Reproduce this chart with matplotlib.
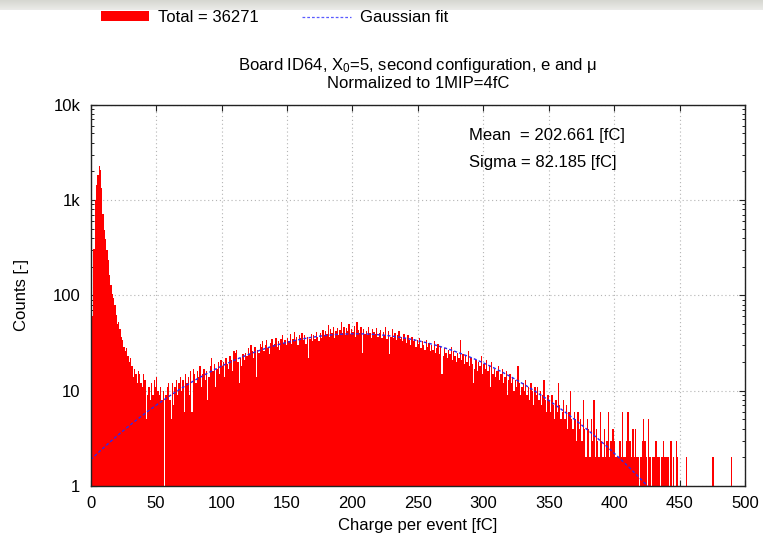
import numpy as np
import matplotlib
matplotlib.use("Agg")
import matplotlib.pyplot as plt
from matplotlib.patches import Patch
from matplotlib.lines import Line2D
from matplotlib.ticker import LogLocator, NullFormatter

plt.rcParams.update({
    "font.family": "Liberation Sans", "font.size": 12,
    "mathtext.fontset": "custom", "mathtext.rm": "Liberation Sans",
    "mathtext.it": "Liberation Sans:italic", "mathtext.default": "regular",
})

# Histogram contents, 1 fC bins
counts_peak = [  # 0 - 49 fC
    15, 60, 310, 1000, 1450, 1850, 2250, 2050, 1350, 720,
    480, 390, 300, 235, 165, 128, 104, 94, 80, 62,
    50, 53, 44, 37, 34, 29, 26, 28, 23, 20,
    22, 18, 14, 17, 15, 12, 16, 15, 12, 11,
    15, 13, 5, 9, 11, 8, 12, 9, 13, 11,
]
counts_bulk = [  # 50 - 299 fC
    14, 10, 9, 11, 8, 10, 1, 9, 11, 12,
    8, 5, 12, 7, 11, 13, 9, 12, 14, 10,
    13, 6, 15, 12, 14, 9, 16, 6, 17, 15,
    12, 16, 14, 18, 11, 15, 17, 13, 16, 8,
    14, 18, 22, 16, 19, 11, 17, 20, 15, 21,
    18, 20, 14, 22, 19, 17, 23, 21, 16, 26,
    25, 27, 20, 12, 22, 18, 24, 21, 25, 23,
    28, 24, 30, 26, 22, 29, 14, 27, 25, 31,
    29, 33, 26, 30, 34, 28, 24, 32, 35, 30,
    31, 36, 29, 33, 27, 35, 38, 32, 34, 30,
    36, 33, 39, 31, 35, 41, 34, 37, 30, 38,
    36, 40, 34, 38, 31, 37, 22, 35, 39, 33,
    38, 35, 41, 37, 33, 40, 36, 43, 38, 42,
    39, 49, 37, 44, 40, 46, 36, 42, 45, 38,
    43, 53, 40, 47, 38, 45, 42, 50, 39, 44,
    41, 48, 37, 52, 43, 40, 46, 25, 44, 39,
    42, 38, 47, 40, 36, 44, 41, 39, 45, 37,
    40, 43, 36, 41, 38, 46, 35, 42, 24, 37,
    44, 36, 40, 34, 38, 42, 35, 37, 33, 39,
    36, 32, 38, 34, 30, 37, 33, 35, 29, 34,
    31, 36, 28, 33, 30, 27, 34, 29, 32, 26,
    30, 27, 33, 25, 28, 31, 24, 29, 15, 23,
    28, 25, 22, 27, 24, 29, 21, 26, 23, 20,
    25, 22, 34, 21, 24, 19, 23, 20, 26, 18,
    22, 19, 12, 17, 21, 16, 20, 18, 23, 15,
]
counts_tail = [  # 300 - 449 fC
    19, 17, 21, 16, 18, 11, 20, 15, 17, 14,
    16, 18, 13, 15, 17, 12, 14, 16, 9, 13,
    15, 12, 14, 10, 13, 11, 18, 12, 9, 11,
    12, 10, 13, 9, 11, 8, 12, 10, 7, 11,
    9, 11, 8, 10, 7, 9, 13, 8, 6, 9,
    8, 6, 9, 7, 5, 8, 6, 12, 7, 5,
    6, 8, 5, 7, 4, 6, 10, 5, 4, 6,
    5, 3, 6, 4, 5, 3, 8, 4, 2, 5,
    4, 2, 5, 3, 8, 2, 4, 3, 2, 6,
    3, 2, 4, 2, 3, 6, 2, 3, 4, 4,
    3, 2, 2, 2, 3, 2, 6, 2, 2, 3,
    6, 3, 3, 2, 4, 2, 4, 2, 2, 1,
    2, 3, 5, 3, 2, 1, 5, 2, 1, 2,
    2, 3, 3, 2, 2, 1, 2, 3, 2, 2,
    2, 2, 1, 3, 1, 2, 1, 3, 2, 1,
]
far_tail = {455: 2, 475: 2, 489: 2}

total_label = "Total = 36271"
fit_mean = 202.661
fit_sigma = 82.185
fit_amp = 39.5

counts = np.zeros(500)
counts[:450] = counts_peak + counts_bulk + counts_tail
for b, c in far_tail.items():
    counts[b] = c
edges = np.arange(501, dtype=float)

W, H = 763, 539
fig = plt.figure(figsize=(W / 100, H / 100), dpi=100)

# grey slide band at the very top
band = fig.add_axes([0, 1 - 10 / H, 1, 10 / H])
grad = np.linspace(0, 1, 10)[:, None, None]
top_c = np.array([0.84, 0.845, 0.82])
bot_c = np.array([0.92, 0.92, 0.91])
img = top_c * (1 - grad) + bot_c * grad
img = np.repeat(img, 4, axis=1)
band.imshow(img, aspect="auto", extent=[0, 1, 0, 1])
band.axis("off")

ax = fig.add_axes([90.7 / W, 53 / H, (745 - 90.7) / W, (486 - 104.7) / H])

ax.stairs(np.maximum(counts, 1), edges, baseline=1, fill=True,
          color="#ff0000", lw=0)
xf = np.linspace(0, 500, 1001)
fit = fit_amp * np.exp(-0.5 * ((xf - fit_mean) / fit_sigma) ** 2)
ax.plot(xf, fit, color="#2a2af0", lw=1.0, dashes=(2.2, 1.6))

ax.set_yscale("log")
ax.set_xlim(0, 500)
ax.set_ylim(1, 1e4)
ax.set_xticks(np.arange(0, 501, 50))
ax.set_yticks([1, 10, 100, 1000, 10000])
ax.set_yticklabels(["1", "10", "100", "1k", "10k"])
ax.yaxis.set_minor_locator(LogLocator(base=10, subs=np.arange(2, 10)))
ax.yaxis.set_minor_formatter(NullFormatter())
ax.tick_params(which="both", direction="in", top=True, right=True, colors="#222222")
ax.tick_params(which="major", length=4.2, width=0.8, pad=7.5, labelcolor="black")
ax.tick_params(which="minor", length=2.3, width=0.7)
ax.grid(True, which="major", color="#b4b4b4", ls=(0, (1, 2.5)), lw=0.8)
ax.set_axisbelow(True)
for s in ax.spines.values():
    s.set_linewidth(1.0)
    s.set_color("#222222")

ax.set_xlabel("Charge per event [fC]")
ax.xaxis.set_label_coords(0.5, -0.085)
ax.set_ylabel("Counts [-]")
ax.yaxis.set_label_coords(-0.094, 0.5)
ax.set_title("Board ID64, X$_0$=5, second configuration, e and μ\nNormalized to 1MIP=4fC",
             fontsize=12, pad=12, linespacing=1.1)

ax.text(0.5786, 0.918, f"Mean  = {fit_mean:.3f} [fC]", transform=ax.transAxes, va="center")
ax.text(0.5786, 0.8497, f"Sigma = {fit_sigma:.3f} [fC]", transform=ax.transAxes, va="center")

handles = [Patch(facecolor="#ff0000", edgecolor="none"),
           Line2D([], [], color="#5a5aff", lw=0.9, dashes=(2.2, 1.6))]
fig.legend(handles, [total_label, "Gaussian fit"], loc="upper left",
           bbox_to_anchor=(100.7 / W, 1 - 10 / H), ncol=2, frameon=False,
           handlelength=2.9, handleheight=0.5, handletextpad=0.55,
           columnspacing=2.6, borderpad=0, borderaxespad=0, fontsize=12)

fig.savefig("out.png", dpi=100)
